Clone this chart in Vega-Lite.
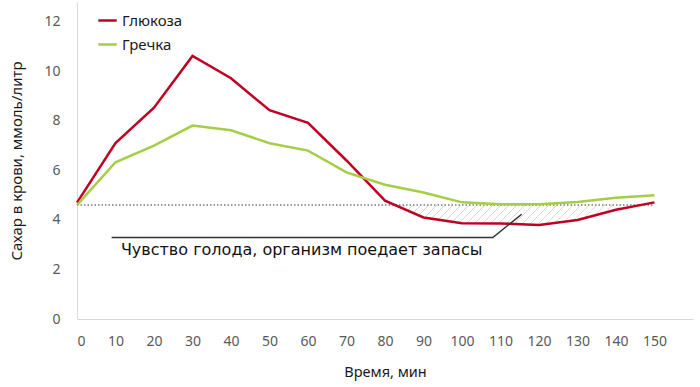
{
  "$schema": "https://vega.github.io/schema/vega-lite/v6.json",
  "width": 616,
  "height": 317,
  "autosize": {"type": "none"},
  "padding": {"left": 77, "top": 2, "right": 7, "bottom": 68},
  "background": "white",
  "config": {
    "view": {"stroke": null},
    "font": "Noto Sans",
    "axisX": {"ticks": false, "grid": false, "domainColor": "#d9d9d9", "domainWidth": 1, "labelColor": "#595959", "labelFontSize": 14, "labelPadding": 15, "titleFontSize": 14.5, "titleColor": "#1a1a1a", "titleFontWeight": "normal", "titlePadding": 17},
    "axisY": {"ticks": false, "grid": false, "domainColor": "#d9d9d9", "domainWidth": 1, "labelColor": "#595959", "labelFontSize": 14, "labelPadding": 17, "titleFontSize": 15, "titleColor": "#1a1a1a", "titleFontWeight": "normal", "titlePadding": 19},
    "legend": {"labelFontSize": 15, "labelColor": "#1a1a1a", "symbolType": "stroke", "symbolStrokeWidth": 2.5, "symbolSize": 340, "labelOffset": 4, "rowPadding": 5, "padding": 0}
  },
  "datasets": {
    "main": [
      {"t": 0, "series": "Глюкоза", "v": 4.7},
      {"t": 10, "series": "Глюкоза", "v": 7.1},
      {"t": 20, "series": "Глюкоза", "v": 8.53},
      {"t": 30, "series": "Глюкоза", "v": 10.62},
      {"t": 40, "series": "Глюкоза", "v": 9.72},
      {"t": 50, "series": "Глюкоза", "v": 8.43},
      {"t": 60, "series": "Глюкоза", "v": 7.92},
      {"t": 70, "series": "Глюкоза", "v": 6.4},
      {"t": 80, "series": "Глюкоза", "v": 4.78},
      {"t": 90, "series": "Глюкоза", "v": 4.1},
      {"t": 100, "series": "Глюкоза", "v": 3.87},
      {"t": 110, "series": "Глюкоза", "v": 3.86},
      {"t": 120, "series": "Глюкоза", "v": 3.8},
      {"t": 130, "series": "Глюкоза", "v": 4.0},
      {"t": 140, "series": "Глюкоза", "v": 4.41},
      {"t": 150, "series": "Глюкоза", "v": 4.71},
      {"t": 0, "series": "Гречка", "v": 4.6},
      {"t": 10, "series": "Гречка", "v": 6.33},
      {"t": 20, "series": "Гречка", "v": 7.0},
      {"t": 30, "series": "Гречка", "v": 7.81},
      {"t": 40, "series": "Гречка", "v": 7.62},
      {"t": 50, "series": "Гречка", "v": 7.1},
      {"t": 60, "series": "Гречка", "v": 6.8},
      {"t": 70, "series": "Гречка", "v": 5.92},
      {"t": 80, "series": "Гречка", "v": 5.42},
      {"t": 90, "series": "Гречка", "v": 5.11},
      {"t": 100, "series": "Гречка", "v": 4.71},
      {"t": 110, "series": "Гречка", "v": 4.63},
      {"t": 120, "series": "Гречка", "v": 4.63},
      {"t": 130, "series": "Гречка", "v": 4.72},
      {"t": 140, "series": "Гречка", "v": 4.9},
      {"t": 150, "series": "Гречка", "v": 5.0}
    ],
    "baseline": [
      {"t": 0, "t2": 150, "v": 4.6}
    ],
    "leader": [
      {"t": 9, "v": 3.29, "o": 1},
      {"t": 108, "v": 3.29, "o": 2},
      {"t": 115.5, "v": 4.23, "o": 3}
    ],
    "note": [
      {"t": 11.4, "v": 2.8, "label": "Чувство голода, организм поедает запасы"}
    ]
  },
  "layer": [
    {
      "data": {"name": "main"},
      "transform": [{"filter": "datum.series == 'Глюкоза' && datum.t >= 80"}],
      "mark": {
        "type": "area",
        "fill": {
          "gradient": "linear", "x1": 0, "y1": 0, "x2": 1, "y2": 0.09,
          "stops": [
            {"offset": 0, "color": "#bfbfbf"}, {"offset": 0.005, "color": "#ffffff"}, {"offset": 0.028, "color": "#ffffff"},
            {"offset": 0.0294, "color": "#bfbfbf"}, {"offset": 0.0344, "color": "#ffffff"}, {"offset": 0.0574, "color": "#ffffff"},
            {"offset": 0.0588, "color": "#bfbfbf"}, {"offset": 0.0638, "color": "#ffffff"}, {"offset": 0.0868, "color": "#ffffff"},
            {"offset": 0.0882, "color": "#bfbfbf"}, {"offset": 0.0932, "color": "#ffffff"}, {"offset": 0.1162, "color": "#ffffff"},
            {"offset": 0.1176, "color": "#bfbfbf"}, {"offset": 0.1226, "color": "#ffffff"}, {"offset": 0.1456, "color": "#ffffff"},
            {"offset": 0.1471, "color": "#bfbfbf"}, {"offset": 0.1521, "color": "#ffffff"}, {"offset": 0.1751, "color": "#ffffff"},
            {"offset": 0.1765, "color": "#bfbfbf"}, {"offset": 0.1815, "color": "#ffffff"}, {"offset": 0.2045, "color": "#ffffff"},
            {"offset": 0.2059, "color": "#bfbfbf"}, {"offset": 0.2109, "color": "#ffffff"}, {"offset": 0.2339, "color": "#ffffff"},
            {"offset": 0.2353, "color": "#bfbfbf"}, {"offset": 0.2403, "color": "#ffffff"}, {"offset": 0.2633, "color": "#ffffff"},
            {"offset": 0.2647, "color": "#bfbfbf"}, {"offset": 0.2697, "color": "#ffffff"}, {"offset": 0.2927, "color": "#ffffff"},
            {"offset": 0.2941, "color": "#bfbfbf"}, {"offset": 0.2991, "color": "#ffffff"}, {"offset": 0.3221, "color": "#ffffff"},
            {"offset": 0.3235, "color": "#bfbfbf"}, {"offset": 0.3285, "color": "#ffffff"}, {"offset": 0.3515, "color": "#ffffff"},
            {"offset": 0.3529, "color": "#bfbfbf"}, {"offset": 0.3579, "color": "#ffffff"}, {"offset": 0.3809, "color": "#ffffff"},
            {"offset": 0.3824, "color": "#bfbfbf"}, {"offset": 0.3874, "color": "#ffffff"}, {"offset": 0.4104, "color": "#ffffff"},
            {"offset": 0.4118, "color": "#bfbfbf"}, {"offset": 0.4168, "color": "#ffffff"}, {"offset": 0.4398, "color": "#ffffff"},
            {"offset": 0.4412, "color": "#bfbfbf"}, {"offset": 0.4462, "color": "#ffffff"}, {"offset": 0.4692, "color": "#ffffff"},
            {"offset": 0.4706, "color": "#bfbfbf"}, {"offset": 0.4756, "color": "#ffffff"}, {"offset": 0.4986, "color": "#ffffff"},
            {"offset": 0.5, "color": "#bfbfbf"}, {"offset": 0.505, "color": "#ffffff"}, {"offset": 0.528, "color": "#ffffff"},
            {"offset": 0.5294, "color": "#bfbfbf"}, {"offset": 0.5344, "color": "#ffffff"}, {"offset": 0.5574, "color": "#ffffff"},
            {"offset": 0.5588, "color": "#bfbfbf"}, {"offset": 0.5638, "color": "#ffffff"}, {"offset": 0.5868, "color": "#ffffff"},
            {"offset": 0.5882, "color": "#bfbfbf"}, {"offset": 0.5932, "color": "#ffffff"}, {"offset": 0.6162, "color": "#ffffff"},
            {"offset": 0.6176, "color": "#bfbfbf"}, {"offset": 0.6226, "color": "#ffffff"}, {"offset": 0.6456, "color": "#ffffff"},
            {"offset": 0.6471, "color": "#bfbfbf"}, {"offset": 0.6521, "color": "#ffffff"}, {"offset": 0.6751, "color": "#ffffff"},
            {"offset": 0.6765, "color": "#bfbfbf"}, {"offset": 0.6815, "color": "#ffffff"}, {"offset": 0.7045, "color": "#ffffff"},
            {"offset": 0.7059, "color": "#bfbfbf"}, {"offset": 0.7109, "color": "#ffffff"}, {"offset": 0.7339, "color": "#ffffff"},
            {"offset": 0.7353, "color": "#bfbfbf"}, {"offset": 0.7403, "color": "#ffffff"}, {"offset": 0.7633, "color": "#ffffff"},
            {"offset": 0.7647, "color": "#bfbfbf"}, {"offset": 0.7697, "color": "#ffffff"}, {"offset": 0.7927, "color": "#ffffff"},
            {"offset": 0.7941, "color": "#bfbfbf"}, {"offset": 0.7991, "color": "#ffffff"}, {"offset": 0.8221, "color": "#ffffff"},
            {"offset": 0.8235, "color": "#bfbfbf"}, {"offset": 0.8285, "color": "#ffffff"}, {"offset": 0.8515, "color": "#ffffff"},
            {"offset": 0.8529, "color": "#bfbfbf"}, {"offset": 0.8579, "color": "#ffffff"}, {"offset": 0.8809, "color": "#ffffff"},
            {"offset": 0.8824, "color": "#bfbfbf"}, {"offset": 0.8874, "color": "#ffffff"}, {"offset": 0.9104, "color": "#ffffff"},
            {"offset": 0.9118, "color": "#bfbfbf"}, {"offset": 0.9168, "color": "#ffffff"}, {"offset": 0.9398, "color": "#ffffff"},
            {"offset": 0.9412, "color": "#bfbfbf"}, {"offset": 0.9462, "color": "#ffffff"}, {"offset": 0.9692, "color": "#ffffff"},
            {"offset": 0.9706, "color": "#bfbfbf"}, {"offset": 0.9756, "color": "#ffffff"}, {"offset": 1, "color": "#ffffff"}
          ]
        }
      },
      "encoding": {
        "x": {"field": "t", "type": "quantitative", "title": "Время, мин", "scale": {"domain": [0, 160], "nice": false}, "axis": {"values": [0, 10, 20, 30, 40, 50, 60, 70, 80, 90, 100, 110, 120, 130, 140, 150]}},
        "y": {"field": "v", "type": "quantitative", "title": "Сахар в крови, ммоль/литр", "scale": {"domain": [0, 12.8], "nice": false}, "axis": {"values": [0, 2, 4, 6, 8, 10, 12]}},
        "y2": {"datum": 4.6}
      }
    },
    {
      "data": {"name": "baseline"},
      "mark": {"type": "rule", "color": "#7a7a7a", "strokeWidth": 1.5, "strokeDash": [1.5, 2]},
      "encoding": {
        "x": {"field": "t", "type": "quantitative", "title": "Время, мин"},
        "x2": {"field": "t2"},
        "y": {"field": "v", "type": "quantitative", "title": "Сахар в крови, ммоль/литр"}
      }
    },
    {
      "data": {"name": "main"},
      "mark": {"type": "line", "strokeWidth": 2.5},
      "encoding": {
        "x": {"field": "t", "type": "quantitative", "title": "Время, мин"},
        "y": {"field": "v", "type": "quantitative", "title": "Сахар в крови, ммоль/литр"},
        "color": {
          "field": "series", "type": "nominal",
          "scale": {"domain": ["Глюкоза", "Гречка"], "range": ["#C00022", "#A5CD45"]},
          "legend": {"title": null, "orient": "none", "legendX": 20, "legendY": 8}
        }
      }
    },
    {
      "data": {"name": "leader"},
      "mark": {"type": "line", "color": "#333333", "strokeWidth": 1.5},
      "encoding": {
        "x": {"field": "t", "type": "quantitative", "title": "Время, мин"},
        "y": {"field": "v", "type": "quantitative", "title": "Сахар в крови, ммоль/литр"},
        "order": {"field": "o"}
      }
    },
    {
      "data": {"name": "note"},
      "mark": {"type": "text", "align": "left", "baseline": "middle", "font": "DejaVu Sans", "fontSize": 16, "color": "#111111"},
      "encoding": {
        "x": {"field": "t", "type": "quantitative", "title": "Время, мин"},
        "y": {"field": "v", "type": "quantitative", "title": "Сахар в крови, ммоль/литр"},
        "text": {"field": "label"}
      }
    }
  ]
}
